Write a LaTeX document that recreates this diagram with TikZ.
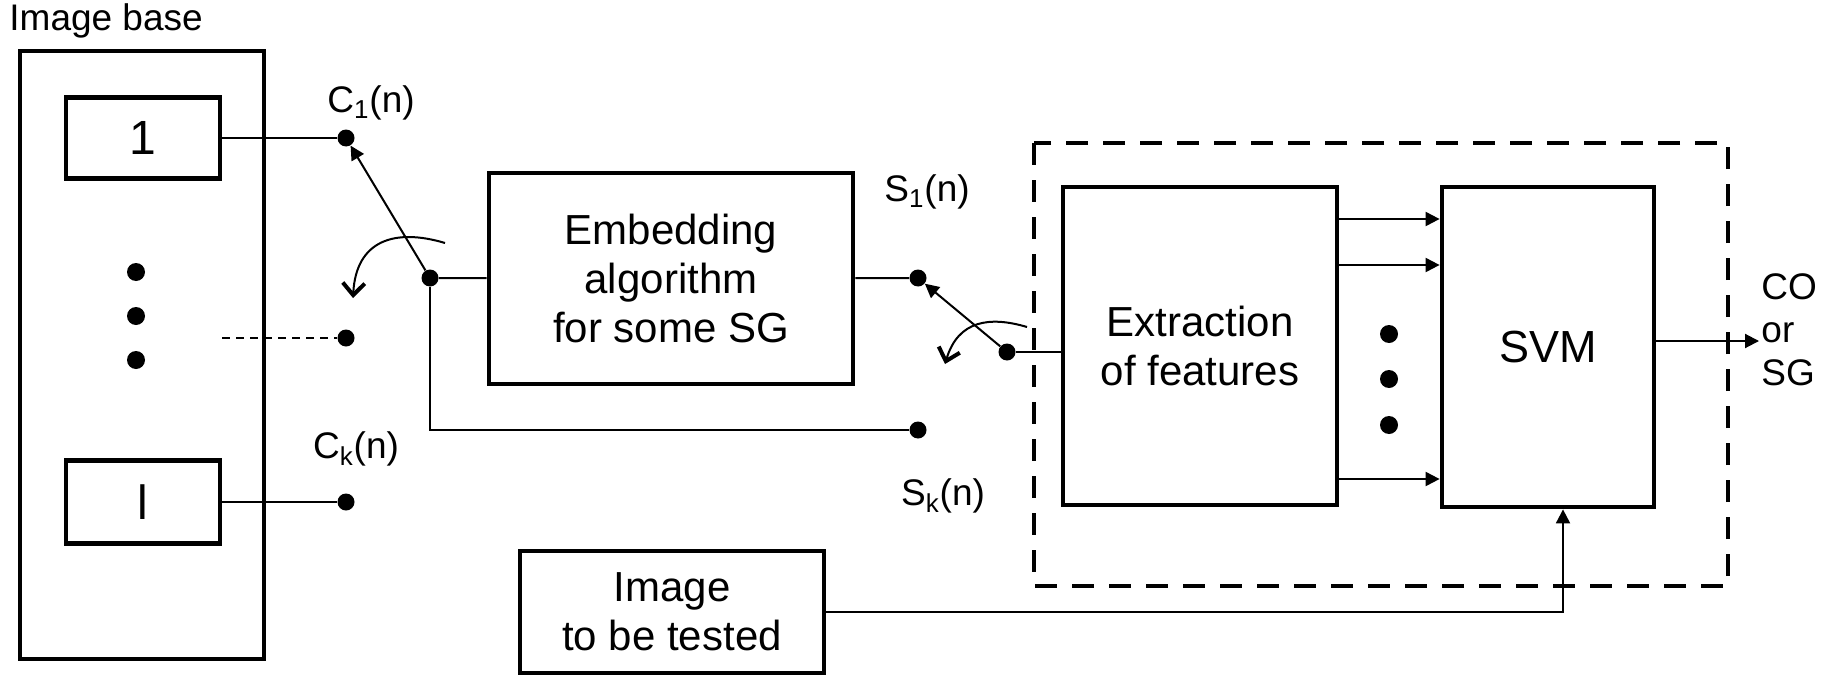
\documentclass[tikz,border=0pt]{standalone}
\usepackage{fontspec}
\setmainfont{Liberation Sans}
\usetikzlibrary{arrows.meta}
\tikzset{>={Triangle[length=7pt,width=7pt]},every node/.style={font=\fontsize{21}{24.5}\selectfont},
blk/.style={draw,line width=2.4pt,align=center,inner sep=0pt},wire/.style={line width=1pt},
pin/.style={circle,fill,inner sep=0pt,minimum size=8.5pt},blob/.style={circle,fill,inner sep=0pt,minimum size=9pt},
lbl/.style={font=\fontsize{18.5}{21.5}\selectfont,inner sep=0pt},
turn/.style={line width=1pt,-{Straight Barb[length=6pt,width=11pt,line width=2pt]}}}

\begin{document}
\begin{tikzpicture}[x=.5pt,y=-.5pt]
\useasboundingbox (0,0) rectangle (1829,674);
% image base
\node[lbl,anchor=base west] (base) at (9,31){Image base};
\node[blk,minimum width=122pt,minimum height=304pt] (bank) at (142,355){};
\node[blk,minimum width=77pt,minimum height=40.5pt,font=\fontsize{24}{28}\selectfont] (im1) at (143,138){1};
\node[blk,minimum width=77pt,minimum height=41.5pt,font=\fontsize{24}{28}\selectfont] (iml) at (143,502){l};
\foreach \y/\n in {272/1,316/2,360/3} \node[blob] (v\n) at (136,\y){};
% first switch
\node[pin] (c1) at (346,138){};\node[pin] (cm) at (346,338){};\node[pin] (ck) at (346,502){};
\node[lbl] (c1l) at (371,103){C\textsubscript{1}(n)};\node[lbl] (ckl) at (356,449){C\textsubscript{k}(n)};
\draw[wire] (im1)--(c1);\draw[wire] (iml)--(ck);
\draw[wire,dash pattern=on 4pt off 3pt] (im1.east |- cm)--(cm);
\node[pin] (piv) at (430,278){};
\draw[wire,->] (piv)--(c1);
\draw[turn] (445,243) .. controls (395,228) and (356,240) .. (353,298);
% embedding
\node[blk,minimum width=182pt,minimum height=105.5pt] (emb) at (671,278.5){Embedding\\algorithm\\ for some SG};
\draw[wire] (piv)--(emb);
\node[pin] (s1) at (918,278){};\node[pin] (sk) at (918,430){};
\node[lbl] (s1l) at (927,192){S\textsubscript{1}(n)};\node[lbl] (skl) at (943,496){S\textsubscript{k}(n)};
\draw[wire] (emb)--(s1);\draw[wire] (piv) |- (sk);
\node[pin] (spiv) at (1007,352){};
\draw[wire,->] (spiv)--(s1);
\draw[turn] (1027,327) .. controls (990,316) and (958,320) .. (945,364);
% steganalysis
\draw[line width=2.4pt,dash pattern=on 11pt off 7.5pt] (1034,143) rectangle (1728,586);
\node[blk,minimum width=137pt,minimum height=159pt] (ext) at (1200,346){Extraction\\of features};
\node[blk,minimum width=106pt,minimum height=160pt,font=\fontsize{22.5}{26}\selectfont] (svm) at (1548,347){SVM};
\draw[wire] (spiv)--(spiv -| ext.west);
\foreach \y in {219,265,479} \draw[wire,->] (ext.east |- 0,\y)--(svm.west |- 0,\y);
\foreach \y/\n in {334/1,379/2,425/3} \node[blob] (f\n) at (1389,\y){};
\coordinate (res) at (1759,341);
\draw[wire,->] (svm.east |- res)--(res);
\node[lbl,align=left,anchor=west] (out) at (1761,330){CO\\or\\SG};
% test image
\node[blk,minimum width=152pt,minimum height=61pt] (test) at (672,612){Image\\to be tested};
\draw[wire,->] (test.east) -| ([xshift=7.5pt]svm.south);
\end{tikzpicture}
\end{document}
